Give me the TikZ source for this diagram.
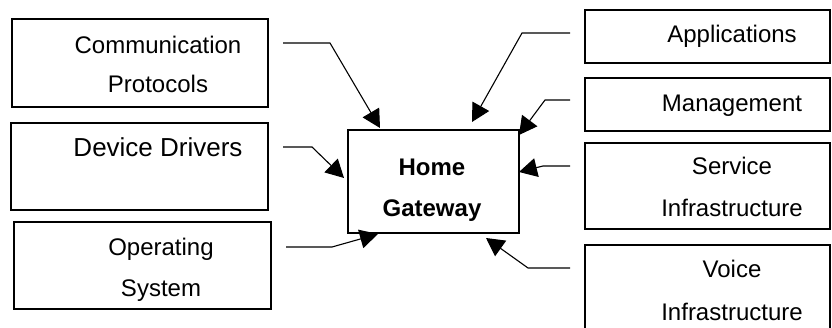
\documentclass[tikz,border=0pt]{standalone}
\usepackage{fontspec}
\setmainfont{Liberation Sans}
\usetikzlibrary{arrows.meta}
\begin{document}
\begin{tikzpicture}[x=1pt,y=-1pt,
  box/.style={draw,line width=1.2pt,inner sep=0pt},
  gwbox/.style={draw,line width=2pt,inner sep=0pt},
  lbl/.style={anchor=base,inner sep=0pt,font=\fontsize{24}{28}\selectfont},
  big/.style={anchor=base,inner sep=0pt,font=\fontsize{26}{30}\selectfont},
  bl/.style={anchor=base,inner sep=0pt,font=\fontsize{24}{28}\selectfont\bfseries},
  conn/.style={line width=1.1pt,-{Triangle[length=18pt,width=19pt]}}]
\useasboundingbox (0,0) rectangle (832,328);
\clip (0,0) rectangle (832,328);
% boxes
\node[box,minimum width=256pt,minimum height=88pt] (comm) at (140,63) {};
\node[box,minimum width=257pt,minimum height=87pt] (dev) at (139.5,166.5) {};
\node[box,minimum width=257pt,minimum height=87pt] (os) at (142.5,265.5) {};
\node[gwbox,minimum width=171pt,minimum height=103pt] (gw) at (433.5,181.5) {};
\node[box,minimum width=245pt,minimum height=53pt] (app) at (707.5,36.5) {};
\node[box,minimum width=245pt,minimum height=53pt] (mgmt) at (707.5,104.5) {};
\node[box,minimum width=245pt,minimum height=86pt] (svc) at (707.5,186) {};
\node[box,minimum width=245pt,minimum height=95pt] (voice) at (707.5,292.5) {};
% texts
\node[lbl] (t1) at (158,54) {Communication};
\node[lbl] (t2) at (158,93) {Protocols};
\node[big] (t3) at (158,157) {Device Drivers};
\node[lbl] (t4) at (161,256) {Operating};
\node[lbl] (t5) at (161,297) {System};
\node[bl] (t6) at (432,176) {Home};
\node[bl] (t7) at (432,217) {Gateway};
\node[lbl] (t8) at (732,43) {Applications};
\node[lbl] (t9) at (732,112) {Management};
\node[lbl] (t10) at (732,175) {Service};
\node[lbl] (t11) at (732,217) {Infrastructure};
\node[lbl] (t12) at (732,278) {Voice};
\node[lbl] (t13) at (732,321) {Infrastructure};
% connector points
\coordinate (c1s) at (283,43); \coordinate (c1b) at (330,43); \coordinate (c1e) at (380,128);
\coordinate (c2s) at (283,147); \coordinate (c2b) at (312,147); \coordinate (c2e) at (344,178);
\coordinate (c3s) at (286,247); \coordinate (c3b) at (332,247); \coordinate (c3e) at (378,234);
\coordinate (c4s) at (570,33); \coordinate (c4b) at (522,33); \coordinate (c4e) at (472,122);
\coordinate (c5s) at (570,100); \coordinate (c5b) at (545,100); \coordinate (c5e) at (519,135);
\coordinate (c6s) at (570,166); \coordinate (c6b) at (543,166); \coordinate (c6e) at (519,172);
\coordinate (c7s) at (570,268); \coordinate (c7b) at (528,268); \coordinate (c7e) at (486,238);
\draw[conn] (c1s) -- (c1b) -- (c1e);
\draw[conn] (c2s) -- (c2b) -- (c2e);
\draw[conn] (c3s) -- (c3b) -- (c3e);
\draw[conn] (c4s) -- (c4b) -- (c4e);
\draw[conn] (c5s) -- (c5b) -- (c5e);
\draw[conn] (c6s) -- (c6b) -- (c6e);
\draw[conn] (c7s) -- (c7b) -- (c7e);
\end{tikzpicture}
\end{document}
